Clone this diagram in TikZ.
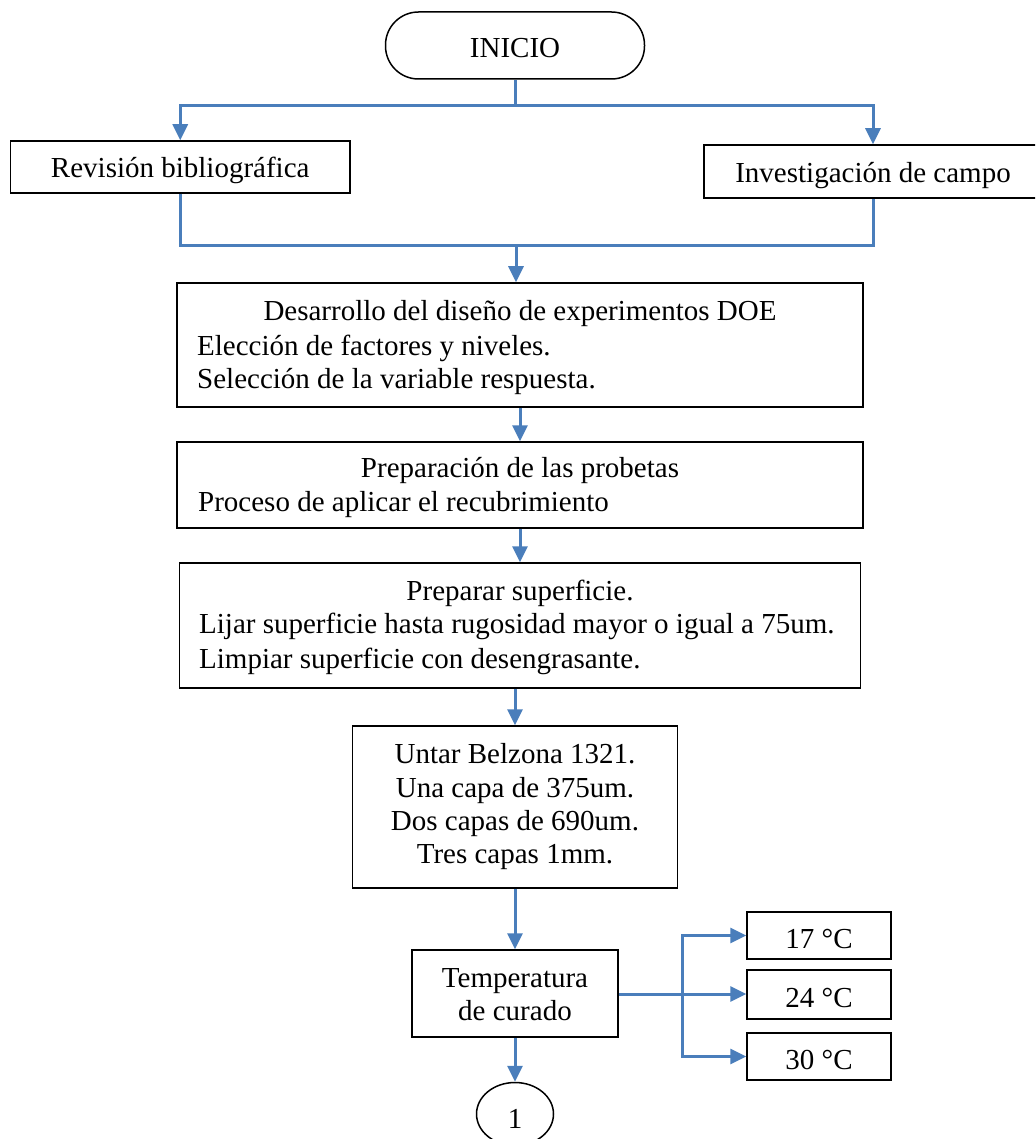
\documentclass[tikz,border=0pt]{standalone}
\usepackage{fontspec}
\setmainfont{Liberation Serif}
\usetikzlibrary{arrows.meta,shapes.geometric}
\definecolor{flowblue}{HTML}{4A7EBB}
\begin{document}
\begin{tikzpicture}[x=1pt,y=-1pt,
  box/.style={draw=black, line width=1.5pt, inner sep=0pt},
  txt/.style={inner sep=0pt, font=\fontsize{29}{34}\selectfont},
  link/.style={draw=flowblue, line width=3pt},
  flow/.style={link, -{Triangle[width=15pt,length=16pt]}}]
\clip (0,0) rectangle (1035,1139);

% start terminal
\node[box, rounded corners=33pt, minimum width=259pt, minimum height=67pt] (start) at (515,45.5) {};
\node[txt, anchor=base] (startT) at (515,58) {INICIO};

% two initial activities
\node[box, minimum width=339.5pt, minimum height=52pt] (rev) at (180.25,167) {};
\node[txt, anchor=base] (revT) at (180.25,178) {Revisión bibliográfica};
\node[box, minimum width=338pt, minimum height=53pt] (inv) at (873,171.5) {};
\node[txt, anchor=base] (invT) at (873,183) {Investigación de campo};

% design of experiments
\node[box, minimum width=686pt, minimum height=124pt] (doe) at (520,345) {};
\node[txt, anchor=base] (doeA) at (520,320) {Desarrollo del diseño de experimentos DOE};
\node[txt, anchor=base west] (doeB) at (197,355) {Elección de factores y niveles.};
\node[txt, anchor=base west] (doeC) at (197,388) {Selección de la variable respuesta.};

% specimen preparation
\node[box, minimum width=686pt, minimum height=86pt] (prep) at (520,485) {};
\node[txt, anchor=base] (prepA) at (520,477) {Preparación de las probetas};
\node[txt, anchor=base west] (prepB) at (198,511) {Proceso de aplicar el recubrimiento};

% surface preparation
\node[box, minimum width=681pt, minimum height=125pt] (surf) at (520,625.5) {};
\node[txt, anchor=base] (surfA) at (520,600) {Preparar superficie.};
\node[txt, anchor=base west] (surfB) at (199,633) {Lijar superficie hasta rugosidad mayor o igual a 75um.};
\node[txt, anchor=base west] (surfC) at (199,668) {Limpiar superficie con desengrasante.};

% coating application
\node[box, minimum width=325pt, minimum height=162pt] (untar) at (515,807) {};
\node[txt, anchor=base] (untarA) at (515,763) {Untar Belzona 1321.};
\node[txt, anchor=base] (untarB) at (515,797) {Una capa de 375um.};
\node[txt, anchor=base] (untarC) at (515,830) {Dos capas de 690um.};
\node[txt, anchor=base] (untarD) at (515,863) {Tres capas 1mm.};

% curing temperature
\node[box, minimum width=206pt, minimum height=87pt] (temp) at (515,993.5) {};
\node[txt, anchor=base] (tempA) at (515,987) {Temperatura};
\node[txt, anchor=base] (tempB) at (515,1020) {de curado};

\node[box, minimum width=144pt, minimum height=47pt] (c17) at (819,935.5) {};
\node[txt, anchor=base] (t17) at (819,948) {17 °C};
\node[box, minimum width=144pt, minimum height=49pt] (c24) at (819,994.5) {};
\node[txt, anchor=base] (t24) at (819,1007) {24 °C};
\node[box, minimum width=144pt, minimum height=47pt] (c30) at (819,1056.5) {};
\node[txt, anchor=base] (t30) at (819,1069) {30 °C};

% off-page connector
\node[draw=black, line width=1.5pt, ellipse, inner sep=0pt, minimum width=77pt, minimum height=63pt] (one) at (515,1114) {};
\node[txt, anchor=base] (oneT) at (515,1128) {1};

% junction points
\coordinate (jtop) at (515,106);
\coordinate (jbot) at (516,246);
\coordinate (jr) at (682,994);

% connectors
\draw[link] (start.south) -- (jtop);
\draw[flow] (jtop) -| (rev.north);
\draw[flow] (jtop) -| (inv.north);
\draw[link] (rev.south) |- (jbot) -| (inv.south);
\draw[flow] (jbot) -- (jbot |- doe.north);
\draw[flow] (doe.south) -- (prep.north);
\draw[flow] (prep.south) -- (surf.north);
\draw[flow] (surf.south -| untar.north) -- (untar.north);
\draw[flow] (untar.south) -- (temp.north);
\draw[link] (temp.east |- jr) -- (jr);
\draw[flow] (jr) |- (c17.west);
\draw[flow] (jr) -- (jr -| c24.west);
\draw[flow] (jr) |- (c30.west);
\draw[flow] (temp.south) -- (one.north);
\end{tikzpicture}
\end{document}
